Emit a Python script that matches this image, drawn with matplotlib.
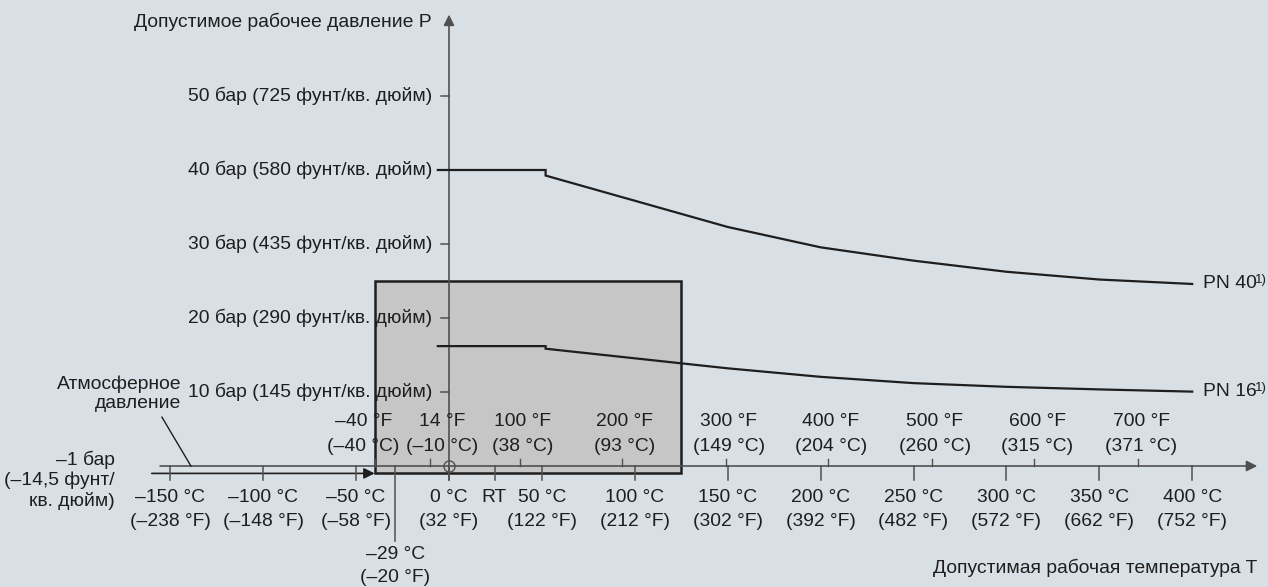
import matplotlib
matplotlib.use("Agg")
import matplotlib.pyplot as plt
from matplotlib.patches import Rectangle

plt.rcParams['font.family'] = ['Liberation Sans', 'DejaVu Sans']

# --- data ---
p_ticks = [10, 20, 30, 40, 50]
p_psi = [145, 290, 435, 580, 725]

c_ticks = [-150, -100, -50, 0, 50, 100, 150, 200, 250, 300, 350, 400]
c_in_f = [-238, -148, -58, 32, 122, 212, 302, 392, 482, 572, 662, 752]
rt_c = 25

f_ticks = [-40, 14, 100, 200, 300, 400, 500, 600, 700]
f_in_c = [-40, -10, 38, 93, 149, 204, 260, 315, 371]

pn40_t = [-6, 52, 52, 150, 200, 250, 300, 350, 400]
pn40_p = [40.0, 40.0, 39.25, 32.3, 29.55, 27.75, 26.25, 25.2, 24.6]
pn16_t = [-6, 52, 52, 150, 200, 250, 300, 350, 400]
pn16_p = [16.2, 16.2, 15.85, 13.2, 12.05, 11.2, 10.7, 10.35, 10.05]

box_t = (-40, 125)
box_p = (-1, 25)

# --- style ---
bg = '#d8e0e6'
axc = '#505050'
ink = '#1e1e1e'
fs = 13.9

fig = plt.figure(figsize=(12.68, 5.87), dpi=100, facecolor=bg)
ax = fig.add_axes([0, 0, 1, 1], facecolor=bg)
ax.set_xlim(-449 / 1.858, (1268 - 449) / 1.858)
ax.set_ylim(-(587 - 466) / 7.4, 466 / 7.4)
ax.axis('off')

# grey area
ax.add_patch(Rectangle((box_t[0], box_p[0]), box_t[1] - box_t[0], box_p[1] - box_p[0],
                       facecolor='#c6c6c6', edgecolor=ink, lw=1.8, zorder=1))

arrow = dict(arrowstyle='-|>', color=axc, lw=1.2, shrinkA=0, shrinkB=0, mutation_scale=16)

# y axis
ax.annotate('', xy=(0, 61), xytext=(0, -1.9), arrowprops=arrow, zorder=3)
for p, psi in zip(p_ticks, p_psi):
    ax.plot([-4.3, 0], [p, p], color=axc, lw=1.1, zorder=3)
    ax.text(-9.2, p, f'{p} бар ({psi} фунт/кв. дюйм)', ha='right', va='center',
            fontsize=fs, color=ink, zorder=4)
ax.text(-9.2, 60, 'Допустимое рабочее давление P', ha='right', va='center',
        fontsize=fs, color=ink)

# x axes: atmospheric line and -1 bar line
ax.annotate('', xy=(435, 0), xytext=(-155.5, 0), arrowprops=arrow, zorder=3)
ax.annotate('', xy=(box_t[0], -1), xytext=(-160, -1),
            arrowprops=dict(arrow, color=ink), zorder=3)

for c, f in zip(c_ticks, c_in_f):
    ax.plot([c, c], [0, -1.9], color=axc, lw=1.1, zorder=3)
    ax.text(c, -4.3, f'{c} °C'.replace('-', '–'), ha='center', va='center',
            fontsize=fs, color=ink, zorder=4)
    ax.text(c, -7.55, f'({f} °F)'.replace('-', '–'), ha='center', va='center',
            fontsize=fs, color=ink, zorder=4)
ax.plot([rt_c, rt_c], [0, -1.9], color=axc, lw=1.1, zorder=3)
ax.text(rt_c - 1, -4.3, 'RT', ha='center', va='center', fontsize=fs, color=ink)

# -29 °C marker
ax.plot([-29, -29], [0, -10.2], color=axc, lw=1.1, zorder=3)
ax.text(-29, -12.0, '–29 °C', ha='center', va='center', fontsize=fs, color=ink)
ax.text(-29, -15.1, '(–20 °F)', ha='center', va='center', fontsize=fs, color=ink)

f_shift = {-40: -6, 14: 6.5}
for f, c in zip(f_ticks, f_in_c):
    ax.plot([c, c], [0, 0.9], color=axc, lw=1.0, zorder=3)
    xl = c + f_shift.get(f, 1.5)
    ax.text(xl, 5.95, f'{f} °F'.replace('-', '–'), ha='center', va='center',
            fontsize=fs, color=ink, zorder=4)
    ax.text(xl, 2.7, f'({c} °C)'.replace('-', '–'), ha='center', va='center',
            fontsize=fs, color=ink, zorder=4)

# origin ring
ax.plot([0], [0], marker='o', ms=8, mfc='none', mec=axc, mew=1.0, zorder=4)

# side notes
ax.text(-179.8, -1.9, '–1 бар\n(–14,5 фунт/\nкв. дюйм)', ha='right', va='center',
        multialignment='right', fontsize=fs, color=ink, linespacing=1.2)
ax.text(-144.2, 9.75, 'Атмосферное\nдавление', ha='right', va='center',
        multialignment='right', fontsize=fs, color=ink, linespacing=1.2)
ax.plot([-154.5, -138.9], [6.6, 0], color=ink, lw=1.0, zorder=3)
ax.text(435, -13.8, 'Допустимая рабочая температура T', ha='right', va='center',
        fontsize=fs, color=ink)

# curves
for t, p, name in [(pn40_t, pn40_p, 'PN 40'), (pn16_t, pn16_p, 'PN 16')]:
    ax.plot(t, p, color=ink, lw=1.6, zorder=5, solid_joinstyle='miter')
    lab = ax.text(405.8, p[-1], name, ha='left', va='center', fontsize=fs, color=ink)
    ax.annotate('1)', xy=(1, 1), xycoords=lab, xytext=(-1.5, 1),
                textcoords='offset points', ha='left', va='top', fontsize=9.5, color=ink)

fig.savefig('out.png', dpi=100, facecolor=bg)
